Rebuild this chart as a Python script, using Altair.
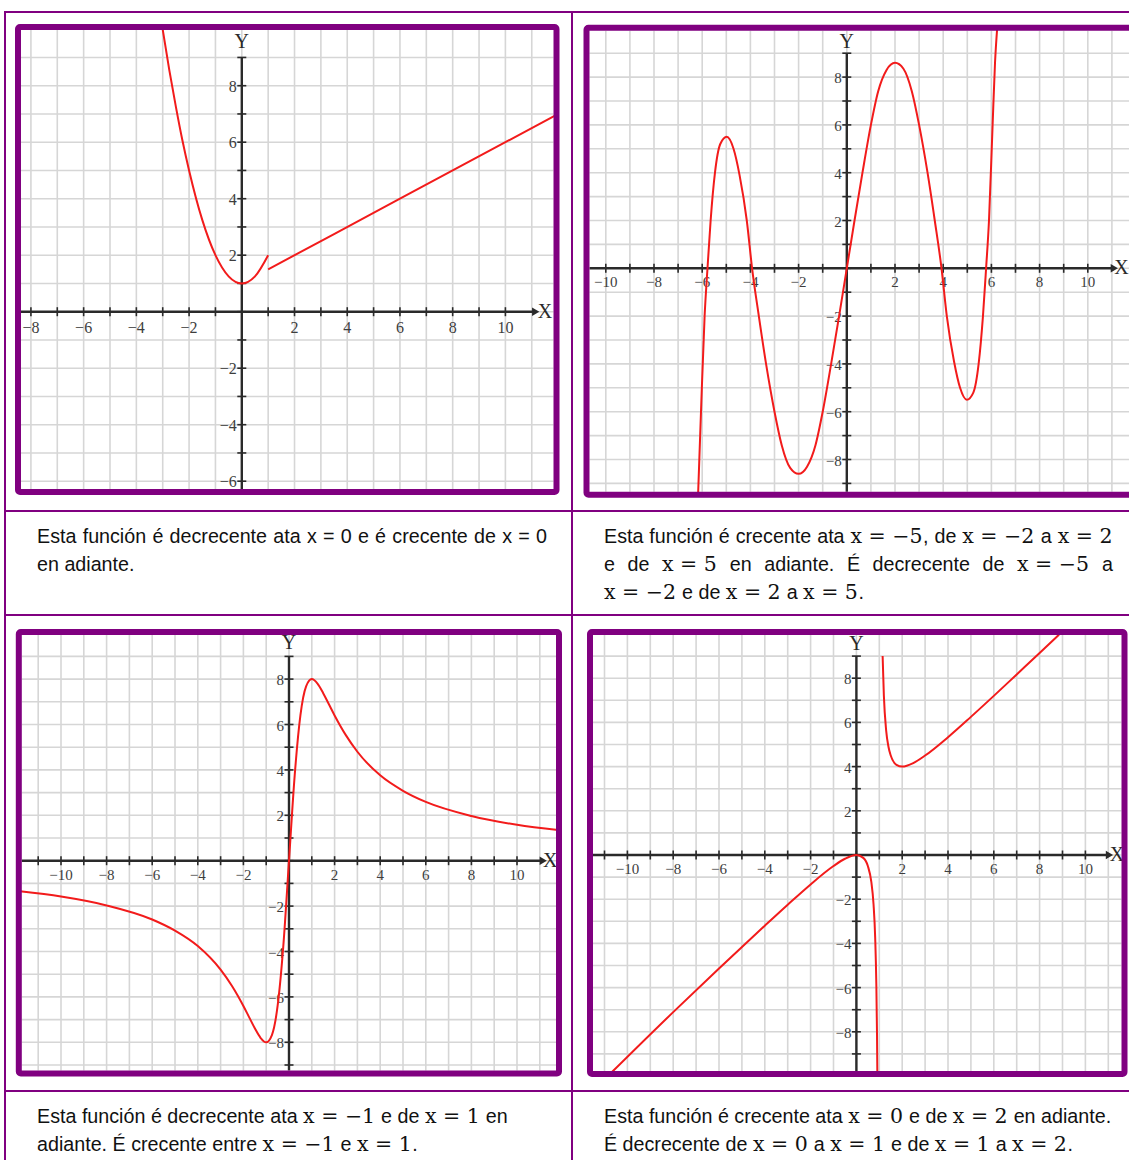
import math
import altair as alt
import pandas as pd

W, H = 1129, 1160

PURPLE = "#800080"
RED = "#f21b1b"
GRID = "#d6d6d6"
INK = "#2a2a2a"
TICK_TXT = "#3d3d3d"
SERIF = "Liberation Serif"
SANS = "Liberation Sans"
MATH = "DejaVu Serif"
SANS_SIZE = 19.7
MATH_SIZE = 20.5

# ---------------- curve values ----------------
# panel 1: parabola up to x = 1, then a straight branch
p1_parabola_x = [-3.02, -2.75, -2.5, -2.25, -2.0, -1.5, -1.0, -0.5, 0.0, 0.5, 1.0]
p1_parabola_y = [10.1, 8.55, 7.25, 6.05, 5.0, 3.25, 2.0, 1.25, 1.0, 1.25, 2.0]
p1_line_x = [1.0, 6.0, 11.9]
p1_line_y = [1.5, 4.0, 6.95]

# panel 2: oscillating polynomial
p2_x = [-6.17, -6.05, -5.9, -5.78, -5.65, -5.47, -5.25, -4.98, -4.7, -4.45,
        -4.15, -3.93, -3.65, -3.35, -3.0, -2.7, -2.35, -2.0, -1.65, -1.3,
        -1.0, -0.65, -0.32, 0.0, 0.32, 0.65, 1.0, 1.3, 1.65, 2.0,
        2.35, 2.7, 3.0, 3.35, 3.65, 3.93, 4.15, 4.45, 4.7, 4.98,
        5.25, 5.47, 5.65, 5.78, 5.9, 6.05, 6.15, 6.24]
p2_y = [-9.45, -6.0, -2.0, 0.0, 2.0, 4.0, 5.2, 5.5, 5.0, 3.9,
        2.0, 0.0, -2.0, -4.0, -6.0, -7.4, -8.35, -8.6, -8.3, -7.4,
        -6.0, -4.0, -2.0, 0.0, 2.0, 4.0, 6.0, 7.4, 8.3, 8.6,
        8.35, 7.4, 6.0, 4.0, 2.0, 0.0, -2.0, -3.9, -5.0, -5.5,
        -5.2, -4.0, -2.0, 0.0, 2.0, 6.0, 8.6, 10.05]

# panel 3: odd rational curve with extrema at x = -1 and x = 1
p3_x = [-11.8, -10, -8, -6, -5, -4, -3, -2.5, -2, -1.75, -1.5, -1.25, -1, -0.75, -0.5, -0.25,
        0, 0.25, 0.5, 0.75, 1, 1.25, 1.5, 1.75, 2, 2.5, 3, 4, 5, 6, 8, 10, 11.8]
p3_y = [-1.35, -1.58, -1.97, -2.59, -3.08, -3.76, -4.8, -5.52, -6.4, -6.89, -7.38, -7.8, -8.0, -7.68, -6.4, -3.76,
        0, 3.76, 6.4, 7.68, 8.0, 7.8, 7.38, 6.89, 6.4, 5.52, 4.8, 3.76, 3.08, 2.59, 1.97, 1.58, 1.35]

# panel 4: two branches around the vertical asymptote x = 1
p4_low_x = [-10.75, -8, -6, -4, -3, -2, -1, -0.5, 0, 0.3, 0.5, 0.65, 0.75, 0.82, 0.87, 0.9, 0.915]
p4_low_y = [-9.9, -7.11, -5.14, -3.2, -2.25, -1.33, -0.5, -0.17, 0, -0.13, -0.5, -1.21, -2.25, -3.74, -5.82, -8.1, -9.95]
p4_high_x = [1.145, 1.2, 1.3, 1.4, 1.5, 1.75, 2, 2.5, 3, 4, 5, 6, 7, 8, 8.85]
p4_high_y = [9.0, 7.2, 5.63, 4.9, 4.5, 4.08, 4.0, 4.17, 4.5, 5.33, 6.25, 7.2, 8.17, 9.14, 9.97]

# ---------------- axis labels ----------------
p1_xlabels = [-8, -6, -4, -2, 2, 4, 6, 8, 10]
p1_ylabels = [-6, -4, -2, 2, 4, 6, 8]
wide_xlabels = [-10, -8, -6, -4, -2, 2, 4, 6, 8, 10]
wide_ylabels = [-8, -6, -4, -2, 2, 4, 6, 8]

# ---------------- captions ($...$ marks formula text) ----------------
captions = [
    # (left, right edge for justified lines, first baseline, lines, justified flags)
    (37, 547, 543, ["Esta función é decrecente ata x = 0 e é crecente de x = 0",
                    "en adiante."], [True, False]),
    (604, 1113, 543, ["Esta función é crecente ata $x = −5$, de $x = −2$ a $x = 2$",
                      "e de $x = 5$ en adiante. É decrecente de $x = −5$ a",
                      "$x = −2$ e de $x = 2$ a $x = 5$."], [True, True, False]),
    (37, 547, 1123, ["Esta función é decrecente ata $x = −1$ e de $x = 1$ en",
                     "adiante. É crecente entre $x = −1$ e $x = 1$."], [False, False]),
    (604, 1113, 1123, ["Esta función é crecente ata $x = 0$ e de $x = 2$ en adiante.",
                       "É decrecente de $x = 0$ a $x = 1$ e de $x = 1$ a $x = 2$."], [False, False]),
]
LINE_STEP = 28

ARIAL = {" ": 278, ".": 278, ",": 278, "=": 584, "E": 667, "É": 667,
         "a": 556, "b": 556, "c": 500, "d": 556, "e": 556, "é": 556, "f": 278, "g": 556,
         "h": 556, "i": 222, "j": 222, "k": 500, "l": 222, "m": 833, "n": 556, "o": 556,
         "ó": 556, "p": 556, "q": 556, "r": 333, "s": 500, "t": 278, "u": 556, "v": 500,
         "w": 722, "x": 500, "y": 500, "z": 500}
DJV_SERIF = {" ": 0.318, "x": 0.59, "=": 0.838, "−": 0.838, ".": 0.318}


def text_width(s, kind):
    if kind == "s":
        return sum(ARIAL.get(c, 556) for c in s) / 1000 * SANS_SIZE
    return sum(DJV_SERIF.get(c, 0.636) for c in s) * MATH_SIZE


def tokenize(line):
    out, space = [], False
    for i, part in enumerate(line.split("$")):
        if i % 2:
            out.append([part, "m", space])
            space = False
            continue
        buf, buf_space = "", False
        for ch in part:
            if ch == " ":
                if buf:
                    out.append([buf, "s", buf_space])
                    buf = ""
                space = True
            else:
                if not buf:
                    buf_space, space = space, False
                buf += ch
        if buf:
            out.append([buf, "s", buf_space])
    return out


rows = []
space_w = text_width(" ", "s")
for left, right, base, lines, just in captions:
    for k, line in enumerate(lines):
        toks = tokenize(line)
        gap = space_w
        if just[k]:
            n_gaps = sum(1 for t in toks if t[2])
            natural = sum(text_width(t[0], t[1]) for t in toks) + n_gaps * space_w
            gap = space_w + (right - left - natural) / max(n_gaps, 1)
        x = left
        for txt, kind, sp in toks:
            if sp:
                x += gap
            rows.append({"word": txt, "kind": kind, "px": x, "py": base + k * LINE_STEP})
            x += text_width(txt, kind)
caption_df = pd.DataFrame(rows)


def signed(v):
    return ("\u2212" + str(-v)) if v < 0 else str(v)


def panel(origin, unit, box, curves, xlabels, ylabels, arrow_x, x_name, y_name,
          label_size, label_dy):
    ox, oy = origin
    ux, uy = unit
    left, right, top, bottom = box
    xs = alt.Scale(domain=[-ox / ux, (W - ox) / ux], nice=False, zero=False)
    ys = alt.Scale(domain=[(oy - H) / uy, oy / uy], nice=False, zero=False)
    x0, x1 = (left - ox) / ux, (right - ox) / ux
    y0, y1 = (oy - bottom) / uy, (oy - top) / uy

    def X(f):
        return alt.X(f, type="quantitative", scale=xs, axis=None)

    def Y(f):
        return alt.Y(f, type="quantitative", scale=ys, axis=None)

    gx = list(range(math.ceil(x0), math.floor(x1) + 1))
    gy = list(range(math.ceil(y0), math.floor(y1) + 1))
    vgrid = alt.Chart(pd.DataFrame({"g": gx, "a": y0, "b": y1})).mark_rule(
        color=GRID, strokeWidth=1.6).encode(x=X("g"), y=Y("a"), y2="b")
    hgrid = alt.Chart(pd.DataFrame({"g": gy, "a": x0, "b": x1})).mark_rule(
        color=GRID, strokeWidth=1.6).encode(y=Y("g"), x=X("a"), x2="b")

    xt = [v for v in gx if v <= 10]
    yt = [v for v in gy if v <= 9]
    xaxis = alt.Chart(pd.DataFrame({"a": [x0], "b": [arrow_x], "z": [0]})).mark_rule(
        color=INK, strokeWidth=2.4).encode(x=X("a"), x2="b", y=Y("z"))
    yaxis = alt.Chart(pd.DataFrame({"a": [y0], "b": [9], "z": [0]})).mark_rule(
        color=INK, strokeWidth=2.4).encode(y=Y("a"), y2="b", x=X("z"))
    arrow = alt.Chart(pd.DataFrame({"a": [arrow_x], "z": [0]})).mark_point(
        shape="triangle-right", filled=True, size=70, color=INK, opacity=1).encode(
        x=X("a"), y=Y("z"))
    xticks = alt.Chart(pd.DataFrame({"t": xt, "z": 0})).mark_tick(
        orient="vertical", size=9, thickness=1.6, color=INK, opacity=1).encode(x=X("t"), y=Y("z"))
    yticks = alt.Chart(pd.DataFrame({"t": yt, "z": 0})).mark_tick(
        orient="horizontal", size=9, thickness=1.6, color=INK, opacity=1).encode(y=Y("t"), x=X("z"))

    xl = pd.DataFrame({"v": xlabels, "s": [signed(v) for v in xlabels], "z": 0})
    yl = pd.DataFrame({"v": ylabels, "s": [signed(v) for v in ylabels], "z": 0})
    xlab = alt.Chart(xl).mark_text(font=SERIF, fontSize=label_size, color=TICK_TXT,
                                   baseline="middle", dy=label_dy).encode(
        x=X("v"), y=Y("z"), text="s:N")
    ylab = alt.Chart(yl).mark_text(font=SERIF, fontSize=label_size, color=TICK_TXT,
                                   align="right", baseline="middle", dx=-5, dy=1).encode(
        y=Y("v"), x=X("z"), text="s:N")
    names = alt.Chart(pd.DataFrame({"a": [x_name, 0], "b": [0, y_name], "n": ["X", "Y"]})).mark_text(
        font=SERIF, fontSize=20, color=INK, baseline="middle").encode(
        x=X("a"), y=Y("b"), text="n:N")

    parts = []
    for i, (cx, cy) in enumerate(curves):
        parts.append(pd.DataFrame({"x": cx, "y": cy, "seg": i}))
    curve = alt.Chart(pd.concat(parts)).mark_line(
        color=RED, strokeWidth=2, interpolate="monotone").encode(
        x=X("x"), y=Y("y"), detail="seg:N")

    frame = alt.Chart(alt.Data(values=[{}])).mark_rect(
        fill="transparent", stroke=PURPLE, strokeWidth=6, cornerRadius=2).encode(
        x=alt.value(left - 3), x2=alt.value(right + 3),
        y=alt.value(top - 3), y2=alt.value(bottom + 3))

    return alt.layer(vgrid, hgrid, xaxis, yaxis, xticks, yticks, arrow, xlab, ylab,
                     names, curve, frame)


panel1 = panel((241.8, 311.7), (26.36, 28.25), (21, 553.5, 30, 489),
               [(p1_parabola_x, p1_parabola_y), (p1_line_x, p1_line_y)],
               p1_xlabels, p1_ylabels, 11.15, 11.5, 9.56, 16, 16)
panel2 = panel((846.8, 268.3), (24.1, 23.9), (589.5, 1140, 30.7, 491.7),
               [(p2_x, p2_y)], wide_xlabels, wide_ylabels, 11.1, 11.4, 9.48, 15, 14)
panel3 = panel((289, 860.7), (22.8, 22.7), (21.8, 556, 635, 1070.5),
               [(p3_x, p3_y)], wide_xlabels, wide_ylabels, 11.15, 11.46, 9.59, 15, 14)
panel4 = panel((856.4, 855), (22.9, 22.1), (593, 1121.5, 635, 1071),
               [(p4_low_x, p4_low_y), (p4_high_x, p4_high_y)],
               wide_xlabels, wide_ylabels, 11.05, 11.38, 9.56, 15, 14)

# table ruling
one = alt.Data(values=[{}])
rules = []
for yy in [12, 511, 615, 1091]:
    rules.append(alt.Chart(one).mark_rule(color=PURPLE, strokeWidth=2).encode(
        x=alt.value(4), x2=alt.value(W), y=alt.value(yy)))
for xx in [5, 572]:
    rules.append(alt.Chart(one).mark_rule(color=PURPLE, strokeWidth=2).encode(
        y=alt.value(11), y2=alt.value(H), x=alt.value(xx)))

PX = alt.X("px:Q", scale=None, axis=None)
PY = alt.Y("py:Q", scale=None, axis=None)
prose = alt.Chart(caption_df[caption_df["kind"] == "s"]).mark_text(
    font=SANS, fontSize=SANS_SIZE, color="#111111", align="left", baseline="alphabetic").encode(
    x=PX, y=PY, text="word:N")
formulas = alt.Chart(caption_df[caption_df["kind"] == "m"]).mark_text(
    font=MATH, fontSize=MATH_SIZE, color="#111111", align="left", baseline="alphabetic").encode(
    x=PX, y=PY, text="word:N")

chart = alt.layer(panel1, panel2, panel3, panel4, *rules, prose, formulas).resolve_scale(
    x="independent", y="independent"
).properties(
    width=W, height=H, padding=0, background="white",
    autosize=alt.AutoSizeParams(type="none"),
).configure_view(stroke=None)

chart.save("out.html", embed_options={"renderer": "svg", "actions": False})
